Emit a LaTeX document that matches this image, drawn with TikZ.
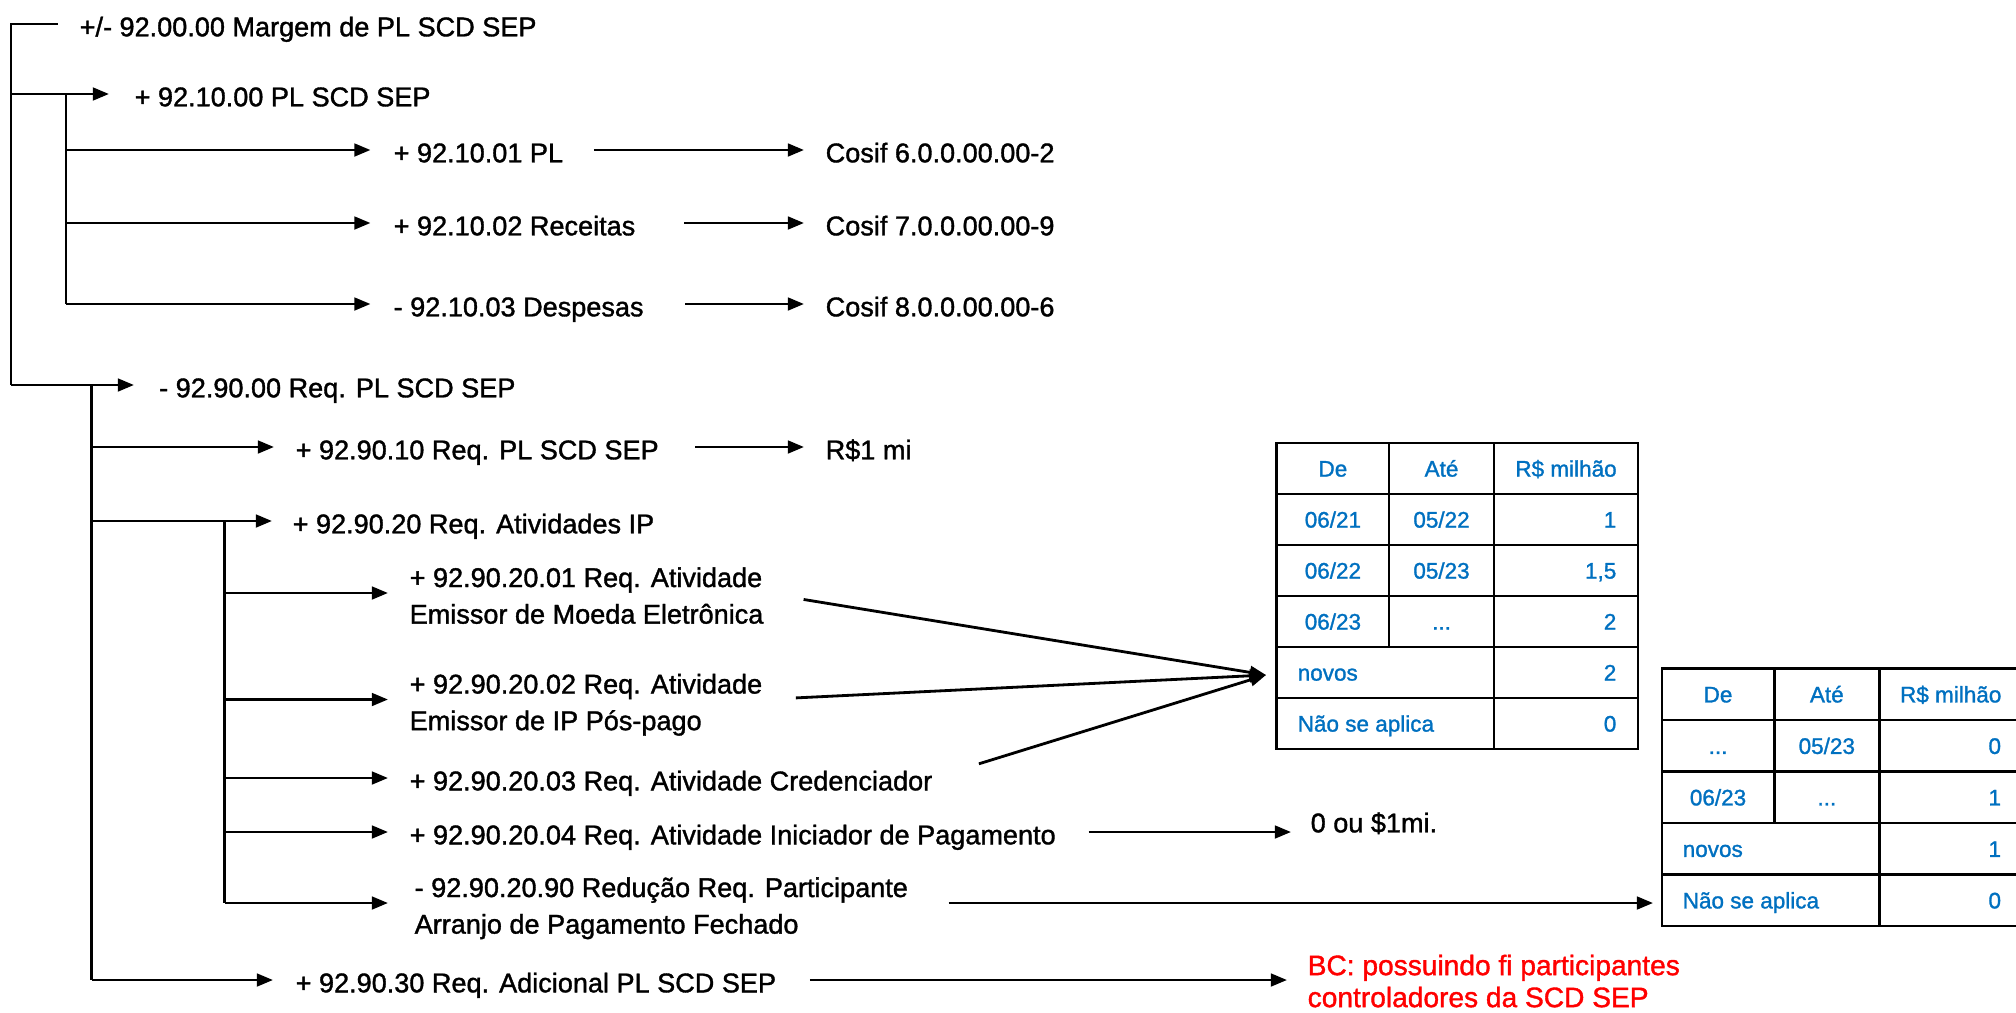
\documentclass[tikz,border=0pt]{standalone}
\usepackage{fontspec}
\setmainfont[FakeBold=1.3]{Liberation Sans}
\usetikzlibrary{arrows.meta}
\definecolor{azul}{RGB}{0,112,192}
\definecolor{vermelho}{RGB}{255,0,0}
\newcommand{\fonteconta}{\fontsize{7.7pt}{10.4pt}\selectfont}
\newcommand{\fontetab}{\fontsize{6.4pt}{7.7pt}\selectfont}
\newcommand{\fontebc}{\fontsize{8pt}{9.1pt}\selectfont}
\tikzset{
  linha/.style={line width=0.8pt},
  seta/.style={linha, -{Triangle[length=4.6pt,width=3.6pt]}},
  conta/.style={anchor=west, inner sep=0pt, font=\fonteconta, text height=7pt, text depth=0pt},
  conta2/.style={anchor=north west, inner sep=0pt, font=\fonteconta, align=left},
  grade/.style={line width=0.7pt},
  celula/.style={inner sep=0pt, font=\fontetab, text=azul, text height=4.6pt, text depth=0pt}
}

\begin{document}
\begin{tikzpicture}[x=0.01cm, y=-0.01cm]
      \useasboundingbox (0,0) rectangle (2016,1012);

      \coordinate (a0) at (11,24);
      \coordinate (a1) at (11,94);
      \coordinate (a2) at (11,385);
      \node[conta] (m9200) at (79,24) {+/- 92.00.00 Margem de PL SCD SEP};
      \draw[linha, shorten <=0.21cm] (m9200.west) -- (a0) -- (a2);
      \node[conta] (m9210) at (134,94) {+ 92.10.00 PL SCD SEP};
      \draw[seta, shorten >=0.25cm] (a1) -- (m9210.west);

      \coordinate (b0) at (66,94);
      \coordinate (b1) at (66,150);
      \coordinate (b2) at (66,223);
      \coordinate (b3) at (66,304);
      \draw[linha] (b0) -- (b3);
      \node[conta] (m921001) at (393,150) {+ 92.10.01 PL};
      \node[conta] (m921002) at (393,223) {+ 92.10.02 Receitas};
      \node[conta] (m921003) at (393,304) {- 92.10.03 Despesas};
      \draw[seta, shorten >=0.225cm] (b1) -- (m921001.west);
      \draw[seta, shorten >=0.225cm] (b2) -- (m921002.west);
      \draw[seta, shorten >=0.225cm] (b3) -- (m921003.west);
      \node[conta] (cosif6) at (825,150) {Cosif 6.0.0.00.00-2};
      \node[conta] (cosif7) at (825,223) {Cosif 7.0.0.00.00-9};
      \node[conta] (cosif8) at (825,304) {Cosif 8.0.0.00.00-6};
      \draw[seta, shorten <=0.3cm, shorten >=0.21cm] (m921001) -- (cosif6);
      \draw[seta, shorten <=0.48cm, shorten >=0.21cm] (m921002) -- (cosif7);
      \draw[seta, shorten <=0.41cm, shorten >=0.21cm] (m921003) -- (cosif8);

      \node[conta] (m9290) at (158.5,385) {- 92.90.00 Req. PL SCD SEP};
      \draw[seta, shorten >=0.245cm] (a2) -- (m9290.west);

      \coordinate (c0) at (91.5,385);
      \coordinate (c1) at (91.5,447);
      \coordinate (c2) at (91.5,521);
      \coordinate (c3) at (91.5,980);
      \draw[linha] (c0) -- (c3);
      \node[conta] (m929010) at (295,447) {+ 92.90.10 Req. PL SCD SEP};
      \node[conta] (m929020) at (292,521) {+ 92.90.20 Req. Atividades IP};
      \node[conta] (m929030) at (295,980) {+ 92.90.30 Req. Adicional PL SCD SEP};
      \draw[seta, shorten >=0.21cm] (c1) -- (m929010.west);
      \draw[seta, shorten >=0.2cm] (c2) -- (m929020.west);
      \draw[seta, shorten >=0.22cm] (c3) -- (m929030.west);
      \node[conta] (rs1mi) at (825,447) {R\$1 mi};
      \draw[seta, shorten <=0.36cm, shorten >=0.21cm] (m929010) -- (rs1mi);

      \coordinate (d0) at (224.5,521);
      \coordinate (d1) at (224.5,593);
      \coordinate (d2) at (224.5,699.5);
      \coordinate (d3) at (224.5,778);
      \coordinate (d4) at (224.5,832);
      \coordinate (d5) at (224.5,903);
      \draw[linha] (d0) -- (d5);
      \node[conta2] (m92902001) at (409,566.7) {+ 92.90.20.01 Req. Atividade\\Emissor de Moeda Eletrônica};
      \node[conta2] (m92902002) at (409,673.2) {+ 92.90.20.02 Req. Atividade\\Emissor de IP Pós-pago};
      \node[conta] (m92902003) at (409,778) {+ 92.90.20.03 Req. Atividade Credenciador};
      \node[conta] (m92902004) at (409,832) {+ 92.90.20.04 Req. Atividade Iniciador de Pagamento};
      \node[conta2] (m92902090) at (414,876.7) {- 92.90.20.90 Redução Req. Participante\\Arranjo de Pagamento Fechado};
      \draw[seta, shorten >=0.21cm] (d1) -- (d1 -| m92902001.west);
      \draw[seta, shorten >=0.21cm] (d2) -- (d2 -| m92902002.west);
      \draw[seta, shorten >=0.21cm] (d3) -- (m92902003.west);
      \draw[seta, shorten >=0.21cm] (d4) -- (m92902004.west);
      \draw[seta, shorten >=0.26cm] (d5) -- (d5 -| m92902090.west);

      \coordinate (t1seta) at (1266,675);
      \coordinate (t2seta) at (1653,903);
      \draw[seta, shorten <=0.4cm] (d1 -| m92902001.east) -- (t1seta);
      \draw[seta, shorten <=0.33cm] (d2 -| m92902002.east) -- (t1seta);
      \draw[seta, shorten <=0.48cm] (m92902003.east) -- (t1seta);
      \draw[seta, shorten <=0.4cm] (d5 -| m92902090.east) -- (t2seta);

      \node[conta] (zerooumi) at (1310,820) {0 ou \$1mi.};
      \draw[seta, shorten <=0.32cm, shorten >=0.19cm] (m92902004.east) -- (m92902004.east -| zerooumi.west);
      \node[conta2, font=\fontebc, text=vermelho] (bcnota) at (1307,954) {BC: possuindo fi participantes\\controladores da SCD SEP};
      \draw[seta, shorten <=0.33cm, shorten >=0.2cm] (m929030.east) -- (m929030.east -| bcnota.west);

      \draw[grade] (1276.7,443) rectangle (1638,749);
      \draw[grade] (1276.7,494) -- (1638,494);
      \draw[grade] (1276.7,545) -- (1638,545);
      \draw[grade] (1276.7,596) -- (1638,596);
      \draw[grade] (1276.7,647) -- (1638,647);
      \draw[grade] (1276.7,698) -- (1638,698);
      \draw[grade] (1389,443) -- (1389,647);
      \draw[grade] (1494,443) -- (1494,749);
      \node[celula] (t1de) at (1332.9,468.5) {De};
      \node[celula] (t1ate) at (1441.5,468.5) {Até};
      \node[celula] (t1valor) at (1566,468.5) {R\$ milhão};
      \node[celula] (t1a1) at (1332.9,519.5) {06/21};
      \node[celula] (t1b1) at (1441.5,519.5) {05/22};
      \node[celula, anchor=east] (t1v1) at (1617,519.5) {1};
      \node[celula] (t1a2) at (1332.9,570.5) {06/22};
      \node[celula] (t1b2) at (1441.5,570.5) {05/23};
      \node[celula, anchor=east] (t1v2) at (1617,570.5) {1,5};
      \node[celula] (t1a3) at (1332.9,621.5) {06/23};
      \node[celula] (t1b3) at (1441.5,621.5) {...};
      \node[celula, anchor=east] (t1v3) at (1617,621.5) {2};
      \node[celula, anchor=west] (t1novos) at (1297,672.5) {novos};
      \node[celula, anchor=east] (t1v4) at (1617,672.5) {2};
      \node[celula, anchor=west] (t1nsa) at (1297,723.5) {Não se aplica};
      \node[celula, anchor=east] (t1v5) at (1617,723.5) {0};

      \draw[grade] (1661.7,668.5) rectangle (2022,926);
      \draw[grade] (1661.7,720) -- (2022,720);
      \draw[grade] (1661.7,771.5) -- (2022,771.5);
      \draw[grade] (1661.7,823) -- (2022,823);
      \draw[grade] (1661.7,874.5) -- (2022,874.5);
      \draw[grade] (1774.3,668.5) -- (1774.3,823);
      \draw[grade] (1879.3,668.5) -- (1879.3,926);
      \node[celula] (t2de) at (1718,694.3) {De};
      \node[celula] (t2ate) at (1826.8,694.3) {Até};
      \node[celula] (t2valor) at (1950.7,694.3) {R\$ milhão};
      \node[celula] (t2a1) at (1718,745.8) {...};
      \node[celula] (t2b1) at (1826.8,745.8) {05/23};
      \node[celula, anchor=east] (t2v1) at (2001.7,745.8) {0};
      \node[celula] (t2a2) at (1718,797.3) {06/23};
      \node[celula] (t2b2) at (1826.8,797.3) {...};
      \node[celula, anchor=east] (t2v2) at (2001.7,797.3) {1};
      \node[celula, anchor=west] (t2novos) at (1682,848.8) {novos};
      \node[celula, anchor=east] (t2v3) at (2001.7,848.8) {1};
      \node[celula, anchor=west] (t2nsa) at (1682,900.3) {Não se aplica};
      \node[celula, anchor=east] (t2v4) at (2001.7,900.3) {0};
\end{tikzpicture}
\end{document}
